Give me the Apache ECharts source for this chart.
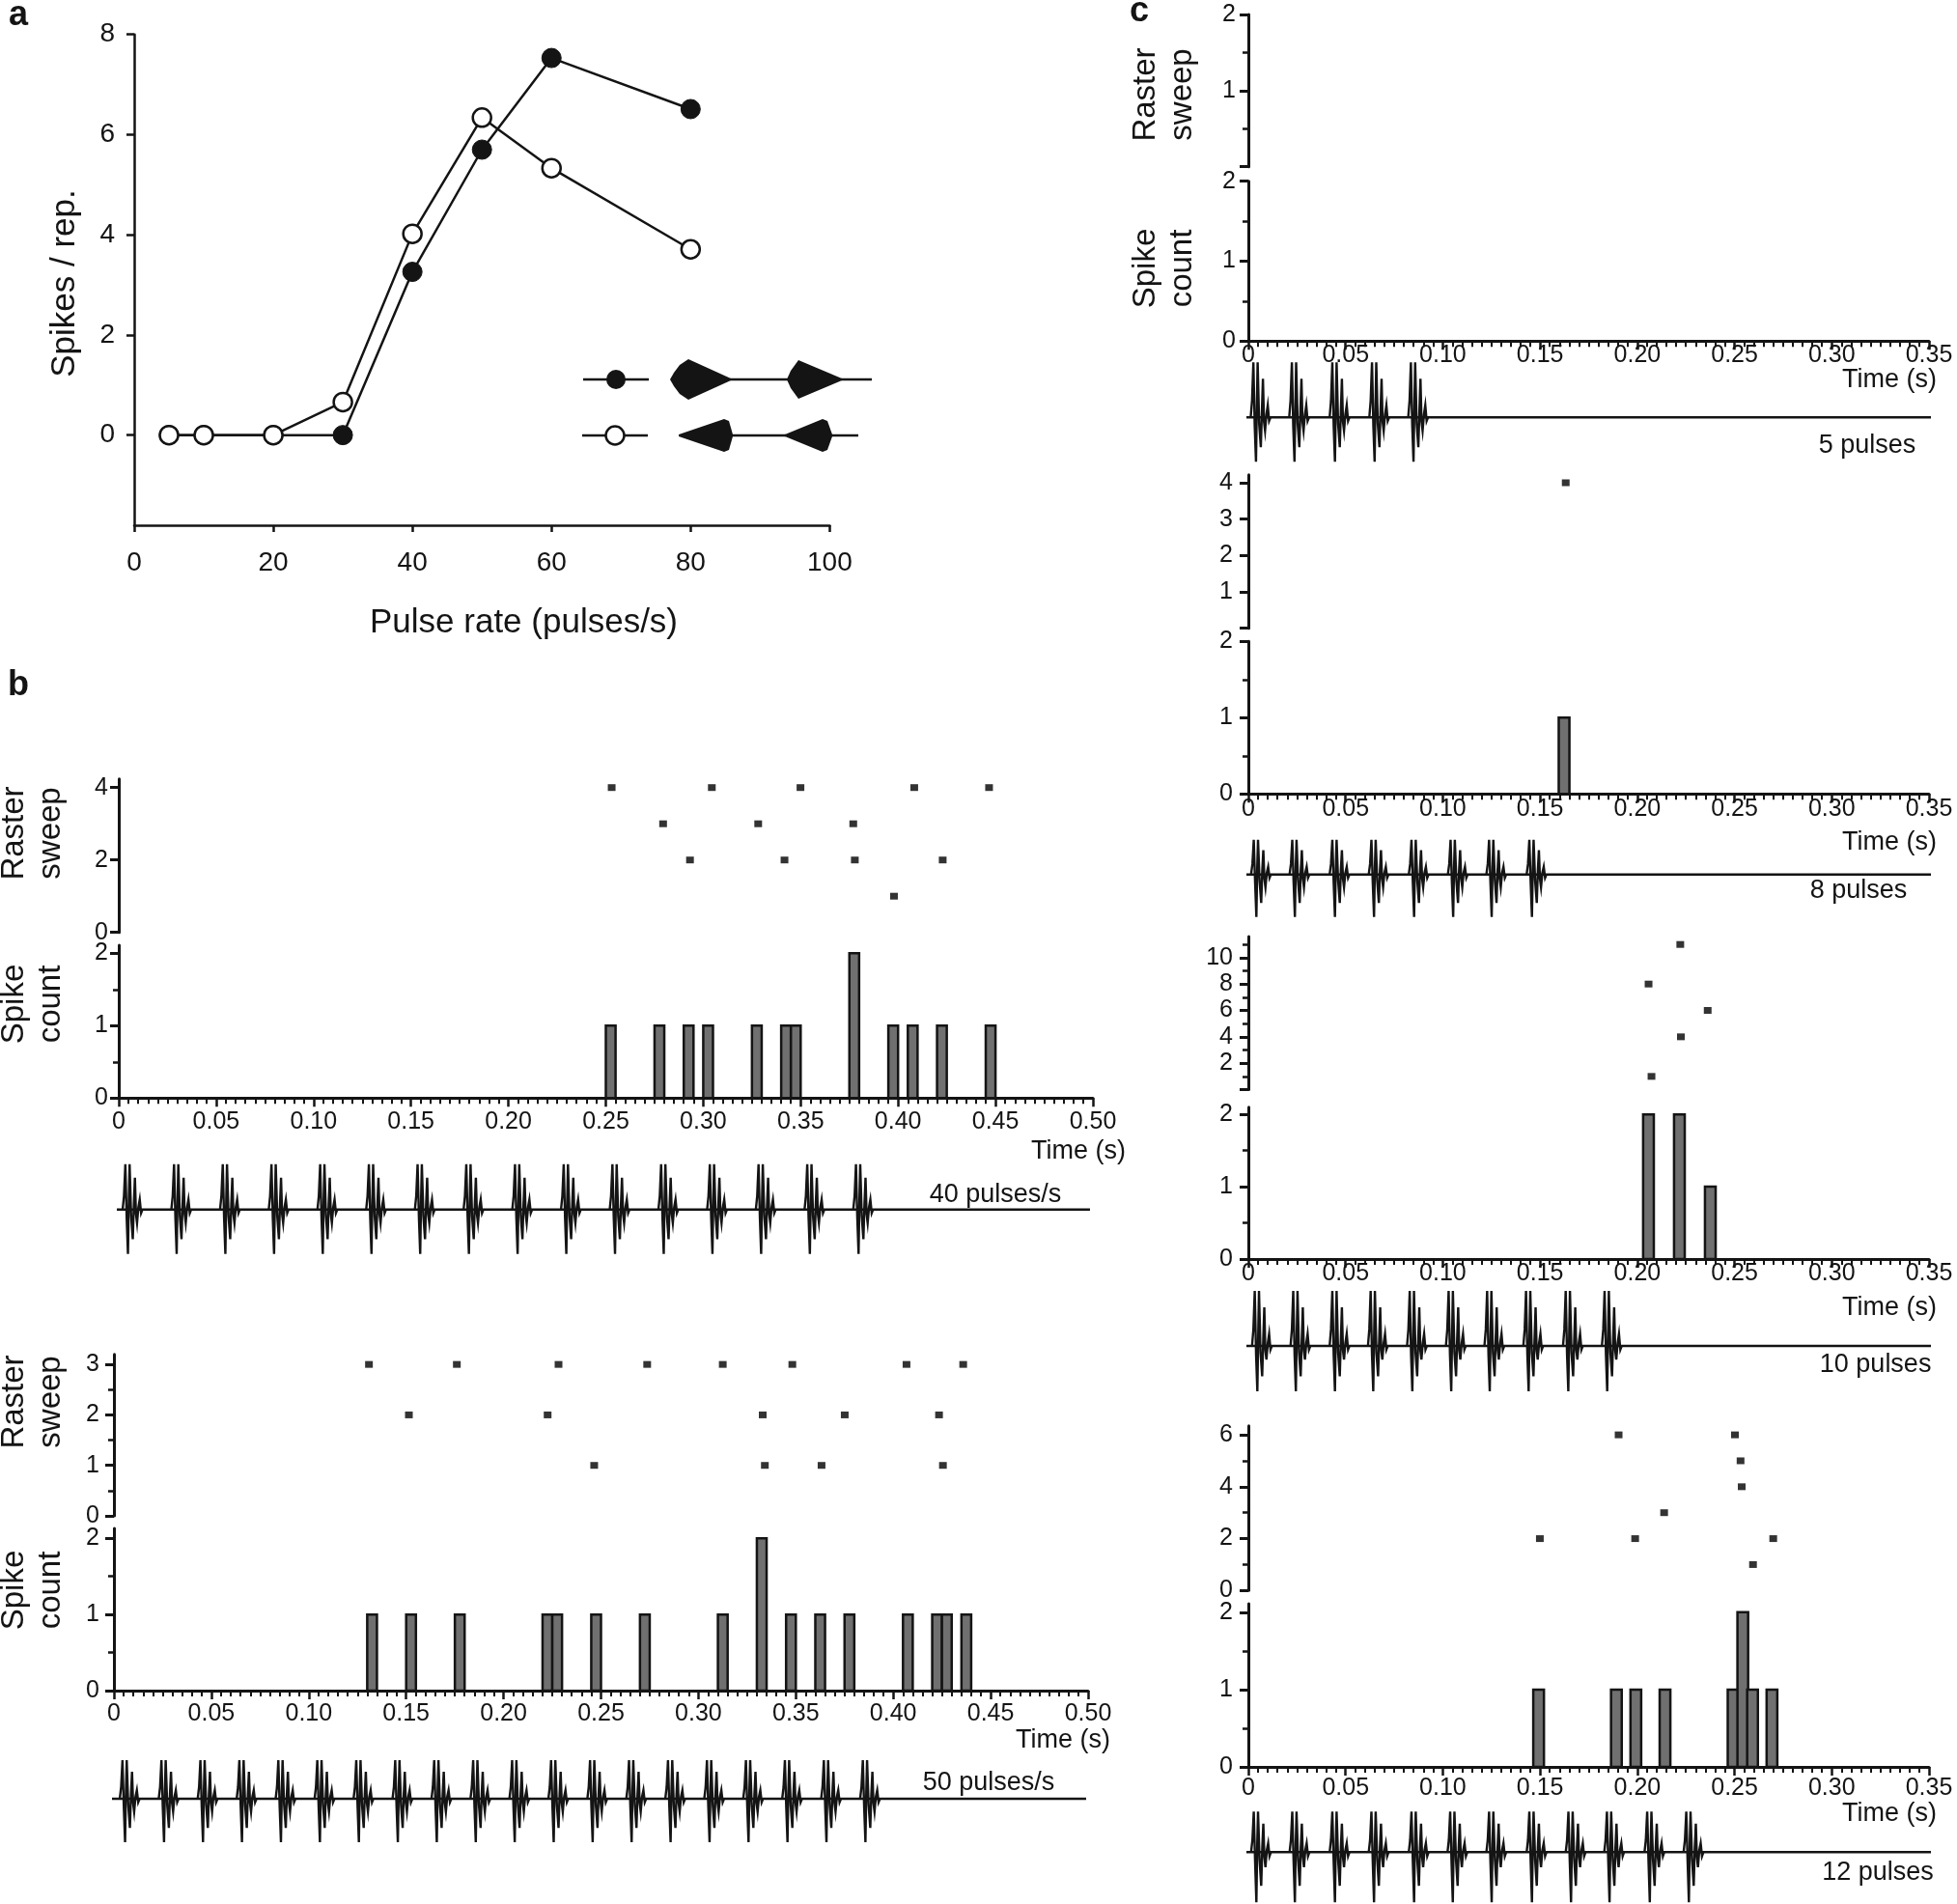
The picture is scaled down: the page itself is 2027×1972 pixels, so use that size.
<!DOCTYPE html>
<html><head><meta charset="utf-8">
<script src="https://cdn.jsdelivr.net/npm/echarts@6/dist/echarts.min.js"></script>
<style>html,body{margin:0;padding:0;background:#fff}#chart{width:2027px;height:1972px}</style>
</head><body><div id="chart"></div>
<script>
// ================= DATA =================
// Panel a
const pulseRates = [5, 10, 20, 30, 40, 50, 60, 80];
const spikesForward = [0, 0, 0, 0, 3.26, 5.70, 7.53, 6.51];
const spikesReversed = [0, 0, 0, 0.66, 4.02, 6.34, 5.33, 3.71];
const rateTicks = [0, 20, 40, 60, 80, 100];
const spikeRepTicks = [0, 2, 4, 6, 8];

// Shared tick labels
const timeLabelsB = [0, 0.05, 0.10, 0.15, 0.20, 0.25, 0.30, 0.35, 0.40, 0.45, 0.50];
const timeLabelsC = [0, 0.05, 0.10, 0.15, 0.20, 0.25, 0.30, 0.35];
const countTicks = [0, 1, 2];
const countMinorTicks = [0.5, 1.5];

// Panel b, 40 pulses/s
const rasterB40 = [[0.253,4],[0.3044,4],[0.3499,4],[0.4083,4],[0.4467,4],[0.2794,3],[0.3282,3],[0.3770,3],[0.2932,2],[0.3417,2],[0.3778,2],[0.4229,2],[0.3979,1]];
const histB40 = [[0.250,1],[0.275,1],[0.290,1],[0.300,1],[0.325,1],[0.340,1],[0.345,1],[0.375,2],[0.395,1],[0.405,1],[0.420,1],[0.445,1]];
const pulsesB40 = [0.002,0.027,0.052,0.077,0.102,0.127,0.152,0.177,0.202,0.227,0.252,0.277,0.302,0.327,0.352,0.377];
const waveSpanB40 = [-0.005, 0.4985];
const rasterTicksB40 = [0, 2, 4];
const rasterMinorB40 = [];

// Panel b, 50 pulses/s
const rasterB50 = [[0.1309,3],[0.176,3],[0.2282,3],[0.2737,3],[0.3125,3],[0.3482,3],[0.4068,3],[0.4359,3],[0.1514,2],[0.2226,2],[0.333,2],[0.3751,2],[0.4235,2],[0.2465,1],[0.3341,1],[0.3632,1],[0.4255,1]];
const histB50 = [[0.130,1],[0.150,1],[0.175,1],[0.220,1],[0.225,1],[0.245,1],[0.270,1],[0.310,1],[0.330,2],[0.345,1],[0.360,1],[0.375,1],[0.405,1],[0.420,1],[0.425,1],[0.435,1]];
const pulsesB50 = [0.003,0.023,0.043,0.063,0.083,0.103,0.123,0.143,0.163,0.183,0.203,0.223,0.243,0.263,0.283,0.303,0.323,0.343,0.363,0.383];
const waveSpanB50 = [-0.0035, 0.499];
const rasterTicksB50 = [0, 1, 2, 3];
const rasterMinorB50 = [0.5, 1.5, 2.5];

// Panel c, 5 pulses
const rasterC5 = [];
const histC5 = [];
const pulsesC5 = [0.0012, 0.021, 0.0418, 0.0622, 0.0822];
const rasterTicksC5 = [0, 1, 2];
const rasterLabelsC5 = [1, 2];
const rasterMinorC5 = [0.5, 1.5];

// Panel c, 8 pulses
const rasterC8 = [[0.1632,4]];
const histC8 = [[0.1596,1]];
const pulsesC8 = [0.0014,0.0212,0.0418,0.0619,0.0825,0.1026,0.1224,0.1431];
const rasterTicksC8 = [0, 1, 2, 3, 4];
const rasterLabelsC8 = [1, 2, 3, 4];
const rasterMinorC8 = [];

// Panel c, 10 pulses
const rasterC10 = [[0.2221,11],[0.2058,8],[0.2362,6],[0.2224,4],[0.2073,1]];
const histC10 = [[0.2030,2],[0.2189,2],[0.2348,1]];
const pulsesC10 = [0.0019,0.0217,0.0418,0.0615,0.0816,0.1016,0.1214,0.1414,0.1618,0.1818];
const rasterTicksC10 = [0, 2, 4, 6, 8, 10];
const rasterLabelsC10 = [2, 4, 6, 8, 10];
const rasterMinorC10 = [1, 3, 5, 7, 9, 11];

// Panel c, 12 pulses
const rasterC12 = [[0.1904,6],[0.2502,6],[0.2531,5],[0.2537,4],[0.2138,3],[0.1499,2],[0.1989,2],[0.2699,2],[0.2595,1]];
const histC12 = [[0.1465,1],[0.1865,1],[0.1965,1],[0.2115,1],[0.2465,1],[0.2515,2],[0.2565,1],[0.2665,1]];
const pulsesC12 = [0.0014,0.0212,0.0418,0.0619,0.0825,0.1024,0.1224,0.1431,0.1632,0.1830,0.2037,0.2238];
const rasterTicksC12 = [0, 2, 4, 6];
const rasterMinorC12 = [1, 3, 5];

const waveSpanC = [-0.004, 0.351];
const binWidthB = 0.005;
const binWidthC = 0.0055;

// ================= STYLE / LAYOUT =================
const FONT = '"Liberation Sans", Arial, Helvetica, sans-serif';
const INK = '#141414';
const BARFILL = '#707070';
const TICKFONT = 25;
// pulse glyph template (px offset, relative amplitude; negative = upward)
const pulseShape = [[0,0],[1.4,-0.3],[2.8,-1],[4.2,0.2],[5.5,1],[6.4,-0.2],[7.2,-1],[8.8,0.15],[10.5,0.67],[11.6,-0.1],[12.7,-0.7],[13.8,0.1],[14.9,0.3],[16.3,-0.05],[17.7,-0.22],[19.1,0.08],[20.5,0]];

const grids = [], xAxes = [], yAxes = [], series = [], graphics = [];

function addGrid(left, top, width, height) {
  grids.push({left, top, width, height, containLabel: false, outerBoundsMode: 'none'});
  return grids.length - 1;
}
function addHiddenX(grid, min, max) {
  xAxes.push({type: 'value', gridIndex: grid, min, max, show: false});
  return xAxes.length - 1;
}
function addHiddenY(grid, min, max) {
  yAxes.push({type: 'value', gridIndex: grid, min, max, show: false});
  return yAxes.length - 1;
}
function addYAxis(grid, min, max, ticks, labels, margin, fontSize, lw) {
  yAxes.push({
    type: 'value', gridIndex: grid, min, max, position: 'left',
    axisLine: {show: true, onZero: false, lineStyle: {color: INK, width: lw || 3}},
    axisTick: {show: true, inside: false, length: 9, customValues: ticks, lineStyle: {color: INK, width: lw || 3}},
    minorTick: {show: false},
    axisLabel: {show: true, customValues: labels, margin, fontSize, fontFamily: FONT, color: INK},
    splitLine: {show: false}, minorSplitLine: {show: false}
  });
  return yAxes.length - 1;
}
function addMinorY(grid, min, max, minor) {
  yAxes.push({
    type: 'value', gridIndex: grid, min, max, position: 'left',
    axisLine: {show: false},
    axisTick: {show: minor.length > 0, inside: false, length: 6, customValues: minor.length ? minor : [min], lineStyle: {color: INK, width: 2.5}},
    axisLabel: {show: false},
    splitLine: {show: false}, minorTick: {show: false}
  });
}
function barRenderer(w) {
  return function (params, api) {
    const t = api.value(0), c = api.value(1);
    const a = api.coord([t, 0]), b = api.coord([t + w, c]);
    return {type: 'rect', shape: {x: a[0], y: b[1], width: b[0] - a[0], height: a[1] - b[1]},
      style: {fill: BARFILL, stroke: INK, lineWidth: 2.5}};
  };
}
function pulseRenderer(up, down) {
  return function (params, api) {
    const p = api.coord([api.value(0), 0]);
    return {type: 'polyline',
      shape: {points: pulseShape.map(s => [p[0] + s[0], p[1] + s[1] * (s[1] < 0 ? up : down)])},
      style: {stroke: INK, lineWidth: 2.4, fill: null}};
  };
}
function addText(text, x, y, size, opts) {
  opts = opts || {};
  graphics.push({
    type: 'text', x, y, rotation: opts.rotation || 0, z: 10,
    style: {text, x: 0, y: 0, fill: INK, font: (opts.bold ? 'bold ' : '') + size + 'px ' + FONT,
      textAlign: opts.align || 'center', textVerticalAlign: 'middle', lineHeight: opts.lineHeight || size}
  });
}
const timeFmt = v => (Math.abs(v) < 1e-9 ? '0' : v.toFixed(2));

// ================= PANEL a =================
(function () {
  const g = addGrid(139, 35.7, 720.4, 508.3);
  xAxes.push({
    type: 'value', gridIndex: g, min: 0, max: 100, interval: 20,
    axisLine: {onZero: false, lineStyle: {color: INK, width: 2.5}},
    axisTick: {length: 7, lineStyle: {color: INK, width: 2.5}},
    axisLabel: {customValues: rateTicks, margin: 39, verticalAlign: 'middle', fontSize: 28, fontFamily: FONT, color: INK},
    splitLine: {show: false}
  });
  const xi = xAxes.length - 1;
  const yi = addYAxis(g, -1.8, 8, spikeRepTicks, spikeRepTicks, 20, 28, 2.5);
  yAxes[yi].axisTick.length = 8;
  series.push({
    type: 'line', xAxisIndex: xi, yAxisIndex: yi, z: 3,
    data: pulseRates.map((r, i) => [r, spikesForward[i]]),
    symbol: 'circle', symbolSize: 20, lineStyle: {color: INK, width: 2.5},
    itemStyle: {color: INK, borderColor: INK, borderWidth: 1}
  });
  series.push({
    type: 'line', xAxisIndex: xi, yAxisIndex: yi, z: 4,
    data: pulseRates.map((r, i) => [r, spikesReversed[i]]),
    symbol: 'circle', symbolSize: 19, lineStyle: {color: INK, width: 2.5},
    itemStyle: {color: '#ffffff', borderColor: INK, borderWidth: 2.5}
  });
  addText('Spikes / rep.', 67, 293.5, 35, {rotation: Math.PI / 2});
  addText('Pulse rate (pulses/s)', 542.5, 645, 35);
  // legend glyphs
  graphics.push(
    {type: 'line', shape: {x1: 604, y1: 393, x2: 672, y2: 393}, style: {stroke: INK, lineWidth: 2.5}},
    {type: 'circle', shape: {cx: 638, cy: 393, r: 10}, style: {fill: INK}},
    {type: 'line', shape: {x1: 603, y1: 451, x2: 671, y2: 451}, style: {stroke: INK, lineWidth: 2.5}},
    {type: 'circle', shape: {cx: 637, cy: 451, r: 9.5}, style: {fill: '#fff', stroke: INK, lineWidth: 2.5}},
    {type: 'polygon', shape: {points: [[694,393],[698,386],[704,378],[713,372],[757,392],[757,394],[713,414],[704,408],[698,400]]}, style: {fill: INK}},
    {type: 'line', shape: {x1: 756, y1: 393, x2: 818, y2: 393}, style: {stroke: INK, lineWidth: 2.5}},
    {type: 'polygon', shape: {points: [[815,393],[819,384],[827,373],[872,392],[872,394],[827,413],[819,402]]}, style: {fill: INK}},
    {type: 'line', shape: {x1: 871, y1: 393, x2: 903, y2: 393}, style: {stroke: INK, lineWidth: 2.5}},
    {type: 'polygon', shape: {points: [[703,450],[750,434],[755,436],[759,450],[759,452],[755,466],[750,468],[703,452]]}, style: {fill: INK}},
    {type: 'line', shape: {x1: 758, y1: 451, x2: 814, y2: 451}, style: {stroke: INK, lineWidth: 2.5}},
    {type: 'polygon', shape: {points: [[813,450],[852,434],[857,436],[862,450],[862,452],[857,466],[852,468],[813,452]]}, style: {fill: INK}},
    {type: 'line', shape: {x1: 861, y1: 451, x2: 889, y2: 451}, style: {stroke: INK, lineWidth: 2.5}}
  );
})();

// ================= PANELS b and c =================
const panels = [
  {left: 123, width: 1009, xMax: 0.5, timeLabels: timeLabelsB,
   raster: {top: 806.7, bottom: 965.7, max: 4.24, ticks: rasterTicksB40, labels: rasterTicksB40, minor: rasterMinorB40},
   hist: {top: 979, bottom: 1137.3, max: 2.11}, wave: {y: 1252.7, up: 47, down: 46},
   xMargin: 24.4, yMargin: 11, rasterData: rasterB40, histData: histB40, bin: binWidthB,
   pulses: pulsesB40, span: waveSpanB40,
   titles: {x: 34, r: 863, c: 1040}, timeTitle: [1166, 1193], stim: ['40 pulses/s', 1031, 1238]},
  {left: 118, width: 1009, xMax: 0.5, timeLabels: timeLabelsB,
   raster: {top: 1402.7, bottom: 1570, max: 3.2, ticks: rasterTicksB50, labels: rasterTicksB50, minor: rasterMinorB50},
   hist: {top: 1583, bottom: 1751, max: 2.13}, wave: {y: 1863, up: 40, down: 45},
   xMargin: 24, yMargin: 15, rasterData: rasterB50, histData: histB50, bin: binWidthB,
   pulses: pulsesB50, span: waveSpanB50,
   titles: {x: 34, r: 1452, c: 1647}, timeTitle: [1150, 1803], stim: ['50 pulses/s', 1024, 1847]},
  {left: 1293, width: 705, xMax: 0.35, timeLabels: timeLabelsC,
   raster: {top: 15, bottom: 172.7, max: 2, ticks: rasterTicksC5, labels: rasterLabelsC5, minor: rasterMinorC5},
   hist: {top: 187.7, bottom: 353.3, max: 2}, wave: {y: 432.3, up: 57, down: 46},
   xMargin: 15, yMargin: 13, rasterData: rasterC5, histData: histC5, bin: binWidthC,
   pulses: pulsesC5, span: waveSpanC,
   titles: {x: 1206, r: 98, c: 278}, timeTitle: [2006, 393.3], stim: ['5 pulses', 1934, 461.7]},
  {left: 1293, width: 705, xMax: 0.35, timeLabels: timeLabelsC,
   raster: {top: 491.7, bottom: 650.7, max: 4.22, ticks: rasterTicksC8, labels: rasterLabelsC8, minor: rasterMinorC8},
   hist: {top: 664.3, bottom: 822.3, max: 2}, wave: {y: 905.7, up: 36, down: 44},
   xMargin: 15.5, yMargin: 16, rasterData: rasterC8, histData: histC8, bin: binWidthC,
   pulses: pulsesC8, span: waveSpanC,
   titles: null, timeTitle: [2006, 872.7], stim: ['8 pulses', 1925, 923]},
  {left: 1293, width: 705, xMax: 0.35, timeLabels: timeLabelsC,
   raster: {top: 970, bottom: 1128.5, max: 11.6, ticks: rasterTicksC10, labels: rasterLabelsC10, minor: rasterMinorC10},
   hist: {top: 1146.7, bottom: 1304, max: 2.1}, wave: {y: 1394, up: 57, down: 47},
   xMargin: 15.5, yMargin: 16, rasterData: rasterC10, histData: histC10, bin: binWidthC,
   pulses: pulsesC10, span: waveSpanC,
   titles: null, timeTitle: [2006, 1355], stim: ['10 pulses', 1942.6, 1413.3]},
  {left: 1293, width: 705, xMax: 0.35, timeLabels: timeLabelsC,
   raster: {top: 1476.7, bottom: 1647.3, max: 6.35, ticks: rasterTicksC12, labels: rasterTicksC12, minor: rasterMinorC12},
   hist: {top: 1661, bottom: 1830, max: 2.11}, wave: {y: 1918.3, up: 42, down: 52},
   xMargin: 21.7, yMargin: 16, rasterData: rasterC12, histData: histC12, bin: binWidthC,
   pulses: pulsesC12, span: waveSpanC,
   titles: null, timeTitle: [2006, 1878.3], stim: ['12 pulses', 1945, 1939.3]}
];

panels.forEach(p => {
  // raster
  const gR = addGrid(p.left, p.raster.top, p.width, p.raster.bottom - p.raster.top);
  const xR = addHiddenX(gR, 0, p.xMax);
  const yR = addYAxis(gR, 0, p.raster.max, p.raster.ticks, p.raster.labels, p.yMargin, TICKFONT);
  addMinorY(gR, 0, p.raster.max, p.raster.minor);
  series.push({type: 'scatter', xAxisIndex: xR, yAxisIndex: yR, data: p.rasterData,
    symbol: 'rect', symbolSize: [8, 7], itemStyle: {color: '#000'}, silent: true});

  // histogram
  const gH = addGrid(p.left, p.hist.top, p.width, p.hist.bottom - p.hist.top);
  xAxes.push({
    type: 'value', gridIndex: gH, min: 0, max: p.xMax, interval: 0.05,
    axisLine: {onZero: false, lineStyle: {color: INK, width: 3}},
    axisTick: {length: 9, lineStyle: {color: INK, width: 2.5}},
    minorTick: {show: true, splitNumber: 10, length: 6, lineStyle: {color: INK, width: 2}},
    axisLabel: {customValues: p.timeLabels, formatter: timeFmt, margin: p.xMargin, verticalAlign: 'middle',
      fontSize: TICKFONT, fontFamily: FONT, color: INK, hideOverlap: false},
    splitLine: {show: false}, minorSplitLine: {show: false}
  });
  const xH = xAxes.length - 1;
  const yH = addYAxis(gH, 0, p.hist.max, countTicks, countTicks, p.yMargin, TICKFONT);
  addMinorY(gH, 0, p.hist.max, countMinorTicks);
  series.push({type: 'custom', xAxisIndex: xH, yAxisIndex: yH, data: p.histData,
    renderItem: barRenderer(p.bin), encode: {x: 0, y: 1}, z: 3, silent: true});

  // stimulus waveform
  const gW = addGrid(p.left, p.wave.y - 50, p.width, 100);
  const xW = addHiddenX(gW, 0, p.xMax);
  const yW = addHiddenY(gW, -1, 1);
  series.push({type: 'line', xAxisIndex: xW, yAxisIndex: yW, data: p.span.map(t => [t, 0]),
    symbol: 'none', lineStyle: {color: INK, width: 2.6}, clip: false, silent: true});
  series.push({type: 'custom', xAxisIndex: xW, yAxisIndex: yW, data: p.pulses.map(t => [t, 0]),
    renderItem: pulseRenderer(p.wave.up, p.wave.down), encode: {x: 0, y: 1}, clip: false, silent: true});

  // texts
  if (p.titles) {
    addText('Raster\nsweep', p.titles.x, p.titles.r, 33, {rotation: Math.PI / 2, lineHeight: 38});
    addText('Spike\ncount', p.titles.x, p.titles.c, 33, {rotation: Math.PI / 2, lineHeight: 38});
  }
  addText('Time (s)', p.timeTitle[0], p.timeTitle[1], 27, {align: 'right'});
  addText(p.stim[0], p.stim[1], p.stim[2], 27);
});

// panel letters
addText('a', 19, 16, 36, {bold: true});
addText('b', 19, 710, 36, {bold: true});
addText('c', 1180, 12, 36, {bold: true});

const chart = echarts.init(document.getElementById('chart'), null, {renderer: 'canvas', width: 2027, height: 1972});
chart.setOption({
  backgroundColor: '#ffffff',
  animation: false,
  grid: grids,
  xAxis: xAxes,
  yAxis: yAxes,
  series: series,
  graphic: {elements: graphics}
});
</script></body></html>
